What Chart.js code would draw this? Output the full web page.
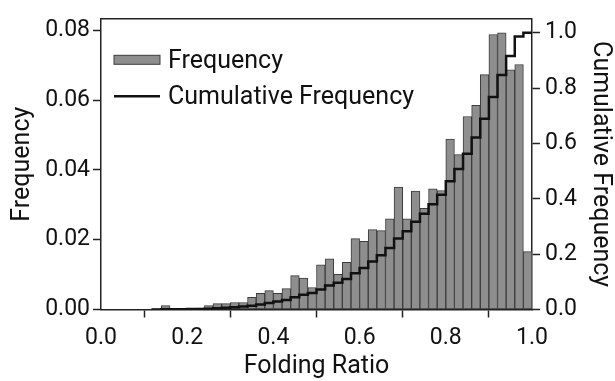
<!DOCTYPE html>
<html>
<head>
<meta charset="utf-8">
<title>Folding Ratio</title>
<script src="https://cdn.jsdelivr.net/npm/chart.js@4.4.0/dist/chart.umd.min.js"></script>
<style>
  html, body { margin: 0; padding: 0; background: #fff; }
  #wrap { width: 615px; height: 381px; }
</style>
</head>
<body>
<div id="wrap"><canvas id="foldingChart"></canvas></div>
<script>
// bin edges of the histogram (51 edges -> 50 bins)
const binEdges = [
  0.00, 0.02, 0.04, 0.06, 0.08, 0.10, 0.12, 0.14, 0.16, 0.18,
  0.20, 0.22, 0.24, 0.26, 0.28, 0.30, 0.32, 0.34, 0.36, 0.38,
  0.40, 0.42, 0.44, 0.46, 0.48, 0.50, 0.52, 0.54, 0.56, 0.58,
  0.60, 0.62, 0.64, 0.66, 0.68, 0.70, 0.72, 0.74, 0.76, 0.78,
  0.80, 0.82, 0.84, 0.86, 0.88, 0.90, 0.92, 0.94, 0.96, 0.98,
  1.00
];

// frequency of each bin
const frequency = [
  0, 0, 0, 0, 0, 0, 0.0002, 0.0011, 0, 0,
  0.0002, 0.0004, 0.0011, 0.0017, 0.0017, 0.0020, 0.0020, 0.0035, 0.0046, 0.0054,
  0.0046, 0.0060, 0.0097, 0.0090, 0.0063, 0.0128, 0.0145, 0.0101, 0.0135, 0.0203,
  0.0195, 0.0229, 0.0226, 0.0260, 0.0351, 0.0260, 0.0339, 0.0290, 0.0346, 0.0341,
  0.0488, 0.0444, 0.0553, 0.0585, 0.0673, 0.0788, 0.0793, 0.0687, 0.0702, 0.0166
];

// cumulative frequency read at each bin edge (null = no line drawn)
const cumulative = [
  null, null, null, null, null, null, 0, 0.0002, 0.0013, 0.0013,
  0.0013, 0.0015, 0.0019, 0.0030, 0.0047, 0.0064, 0.0084, 0.0104, 0.0139, 0.0185,
  0.0239, 0.0285, 0.0345, 0.0442, 0.0532, 0.0595, 0.0723, 0.0868, 0.0969, 0.1104,
  0.1307, 0.1502, 0.1731, 0.1957, 0.2217, 0.2568, 0.2828, 0.3167, 0.3457, 0.3803,
  0.4144, 0.4632, 0.5076, 0.5629, 0.6214, 0.6887, 0.7675, 0.8468, 0.9155, 0.9857,
  1.0
];

const xTicks = [0, 0.2, 0.4, 0.6, 0.8, 1.0];
const freqTicks = [0, 0.02, 0.04, 0.06, 0.08];
const cumTicks = [0, 0.2, 0.4, 0.6, 0.8, 1.0];

const FONT = 'Roboto, "Liberation Sans", sans-serif';
const INK = '#222';
const BAR_FILL = '#8e8e8e';
const BAR_EDGE = '#3c3c3c';

const barPoints = frequency.map((f, i) => ({ x: (binEdges[i] + binEdges[i + 1]) / 2, y: f }));
const cumPoints = binEdges.map((e, i) => ({ x: e, y: cumulative[i] }));

// legend inside plot + top border of the frame
const framePlugin = {
  id: 'framePlugin',
  afterDraw(chart) {
    const { ctx, chartArea } = chart;
    ctx.save();
    ctx.strokeStyle = INK;
    ctx.lineWidth = 1.5;
    ctx.beginPath();
    ctx.moveTo(chartArea.left, chartArea.top);
    ctx.lineTo(chartArea.right, chartArea.top);
    ctx.stroke();

    const lx = chartArea.left + 13;
    const ds = chart.data.datasets;
    ctx.font = '25px ' + FONT;
    ctx.textBaseline = 'alphabetic';

    // bar entry
    ctx.fillStyle = BAR_FILL;
    ctx.fillRect(lx, chartArea.top + 36.5, 46, 9);
    ctx.strokeStyle = BAR_EDGE;
    ctx.lineWidth = 1;
    ctx.strokeRect(lx, chartArea.top + 36.5, 46, 9);
    ctx.fillStyle = '#111';
    ctx.fillText(ds[1].label, lx + 54, chartArea.top + 49);

    // line entry
    ctx.strokeStyle = '#111';
    ctx.lineWidth = 2.5;
    ctx.beginPath();
    ctx.moveTo(lx, chartArea.top + 77.5);
    ctx.lineTo(lx + 46, chartArea.top + 77.5);
    ctx.stroke();
    ctx.fillText(ds[0].label, lx + 54, chartArea.top + 85);
    ctx.restore();
  }
};

new Chart(document.getElementById('foldingChart'), {
  type: 'bar',
  data: {
    datasets: [
      {
        type: 'line',
        label: 'Cumulative Frequency',
        data: cumPoints,
        yAxisID: 'y1',
        borderColor: '#111',
        borderWidth: 2.5,
        stepped: 'after',
        pointRadius: 0,
        fill: false,
        spanGaps: false,
        order: 1,
      },
      {
        type: 'bar',
        label: 'Frequency',
        data: barPoints,
        yAxisID: 'y',
        backgroundColor: BAR_FILL,
        borderColor: BAR_EDGE,
        borderWidth: 1,
        borderSkipped: false,
        barPercentage: 1,
        categoryPercentage: 1,
        order: 2,
      },
    ],
  },
  options: {
    responsive: true,
    maintainAspectRatio: false,
    animation: false,
    layout: { padding: { top: 12, left: 0, right: 0, bottom: 0 } },
    plugins: {
      legend: { display: false },
      tooltip: { enabled: false },
    },
    scales: {
      x: {
        type: 'linear',
        min: 0,
        max: 1,
        offset: false,
        afterBuildTicks: (s) => { s.ticks = xTicks.map(v => ({ value: v })); },
        afterFit: (s) => { s.height = 71.5; },
        ticks: {
          callback: (v) => v.toFixed(1),
          color: '#111',
          font: { family: FONT, size: 23 },
          padding: 7,
          maxRotation: 0,
        },
        grid: { drawOnChartArea: false, drawTicks: true, tickLength: 8, color: INK, tickWidth: 1.5 },
        border: { display: true, color: INK, width: 1.5 },
        title: {
          display: true,
          text: 'Folding Ratio',
          color: '#111',
          font: { family: FONT, size: 25 },
          padding: { top: 0, bottom: -1 },
        },
      },
      y: {
        type: 'linear',
        position: 'left',
        min: 0,
        max: 0.0833,
        afterBuildTicks: (s) => { s.ticks = freqTicks.map(v => ({ value: v })); },
        afterFit: (s) => { s.width = 101; },
        ticks: {
          callback: (v) => v.toFixed(2),
          color: '#111',
          font: { family: FONT, size: 23 },
          padding: 3,
        },
        grid: { drawOnChartArea: false, drawTicks: true, tickLength: 8, color: INK, tickWidth: 1.5 },
        border: { display: true, color: INK, width: 1.5 },
        title: {
          display: true,
          text: 'Frequency',
          color: '#111',
          font: { family: FONT, size: 25 },
          padding: { top: 8, bottom: 0 },
        },
      },
      y1: {
        type: 'linear',
        position: 'right',
        min: 0,
        max: 1.05,
        afterBuildTicks: (s) => { s.ticks = cumTicks.map(v => ({ value: v })); },
        afterFit: (s) => { s.width = 83; },
        ticks: {
          callback: (v) => v.toFixed(1),
          color: '#111',
          font: { family: FONT, size: 23 },
          padding: 5,
        },
        grid: { drawOnChartArea: false, drawTicks: true, tickLength: 8, color: INK, tickWidth: 1.5 },
        border: { display: true, color: INK, width: 1.5 },
        title: {
          display: true,
          text: 'Cumulative Frequency',
          color: '#111',
          font: { family: FONT, size: 25 },
          padding: { top: 0, bottom: 0 },
        },
      },
    },
  },
  plugins: [framePlugin],
});
</script>
</body>
</html>
